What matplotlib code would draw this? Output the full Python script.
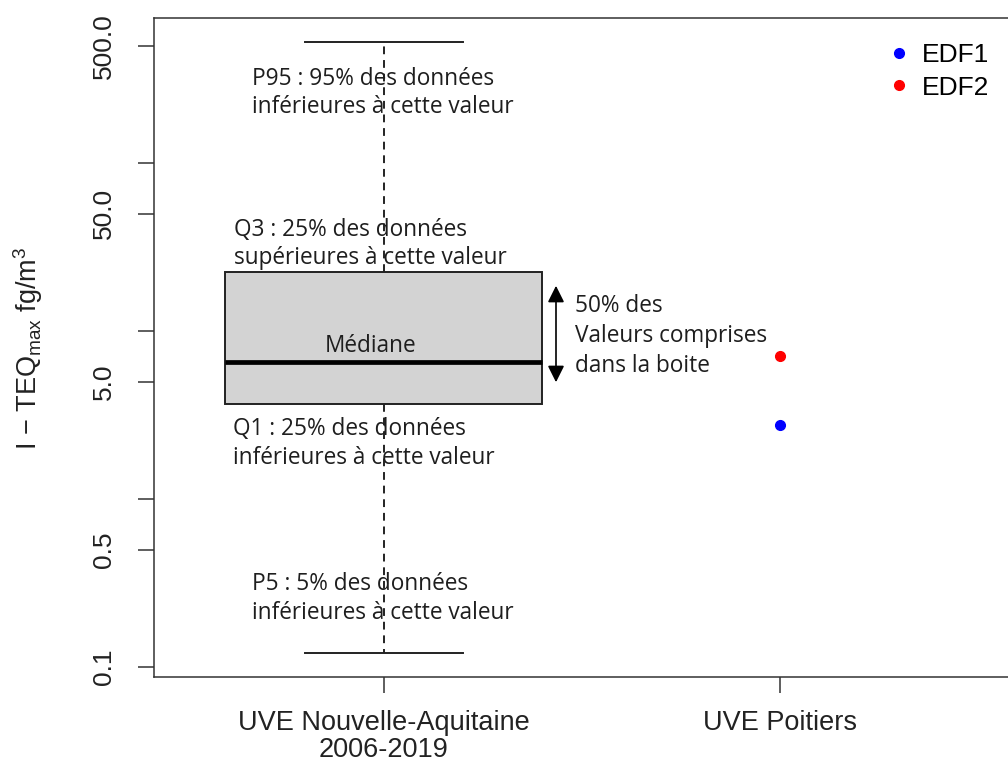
import matplotlib
matplotlib.use('Agg')
import matplotlib.pyplot as plt
import numpy as np
from matplotlib.lines import Line2D

# ── données ──
groups = ['UVE Nouvelle-Aquitaine\n2006-2019', 'UVE Poitiers']
box_p5 = 0.122
box_q1 = 3.68
box_med = 6.54
box_q3 = 22.4
box_p95 = 523.0
edf_labels = ['EDF1', 'EDF2']
edf_values = [2.76, 7.1]
edf_colors = ['blue', 'red']
yticks = [0.1, 0.5, 1, 5, 10, 50, 100, 500]
ytick_labels = ['0.1', '0.5', '', '5.0', '', '50.0', '', '500.0']

W, H = 1008, 770
R_FONT = 'Liberation Sans'
NOTE_FONT = 'Open Sans'
NOTE_COL = '#1e1e1e'

plt.rcParams.update({
    'font.family': [R_FONT, 'DejaVu Sans'],
    'mathtext.fontset': 'custom',
    'mathtext.rm': R_FONT,
    'mathtext.it': R_FONT,
    'mathtext.default': 'regular',
})

fig = plt.figure(figsize=(W / 100, H / 100), dpi=100, facecolor='white')
ax = fig.add_axes([154 / W, 1 - 677 / H, (1010 - 154) / W, (677 - 18) / H])

stats = [dict(whislo=box_p5, q1=box_q1, med=box_med, q3=box_q3,
              whishi=box_p95, fliers=[])]
ax.bxp(stats, positions=[1], widths=0.8, capwidths=0.4, patch_artist=True,
       boxprops=dict(facecolor='#d3d3d3', edgecolor='#222222', linewidth=1.4),
       medianprops=dict(color='black', linewidth=3.4, solid_capstyle='butt'),
       whiskerprops=dict(color='#222222', linewidth=1.4, linestyle=(0, (4, 3))),
       capprops=dict(color='#222222', linewidth=1.4), manage_ticks=False)

for v, c in zip(edf_values, edf_colors):
    ax.plot([2], [v], 'o', color=c, markersize=7, zorder=3)

ax.set_yscale('log')
lo, hi = np.log10(box_p5), np.log10(box_p95)
pad = 0.04 * (hi - lo)
ax.set_ylim(10 ** (lo - pad), 10 ** (hi + pad))
ax.set_xlim(0.42, 2.58)
ax.yaxis.set_minor_locator(matplotlib.ticker.NullLocator())
ax.set_yticks(yticks)
ax.set_yticklabels(ytick_labels, rotation=90, va='center', fontsize=19, color='#222222')
ax.set_xticks([1, 2])
ax.set_xticklabels(groups, fontsize=19.5, color='#222222', linespacing=1.05)
ax.tick_params(axis='y', length=11.5, width=1.1, pad=16, color='#333333')
ax.tick_params(axis='x', length=11.5, width=1.1, pad=12, color='#333333')
for s in ax.spines.values():
    s.set_linewidth(1.1)
    s.set_color('#333333')

fig.text(28 / W, 1 - 348 / H, r'I $-$ TEQ$_{max}$ fg$/$m$^3$', rotation=90,
         ha='center', va='center', fontsize=19.5, color='#222222')

# ── légende ──
handles = [Line2D([], [], marker='o', linestyle='none', color=c, markersize=7)
           for c in edf_colors]
fig.legend(handles, edf_labels, loc='upper left', bbox_to_anchor=(888 / W, 1 - 43 / H),
           frameon=False, fontsize=19, borderpad=0, borderaxespad=0,
           handlelength=0.8, handletextpad=0.5, labelspacing=0.33)

# ── annotations ──
def note(x, y, s, **kw):
    fig.text(x / W, 1 - y / H, s, ha='left', va='baseline', fontsize=16.3,
             family=NOTE_FONT, color=NOTE_COL, **kw)

note(252, 85, 'P95 : 95% des données')
note(252, 113, 'inférieures à cette valeur')
note(234, 236, 'Q3 : 25% des données')
note(234, 264, 'supérieures à cette valeur')
note(325, 352, 'Médiane')
note(233, 435, 'Q1 : 25% des données')
note(233, 464, 'inférieures à cette valeur')
note(252, 590, 'P5 : 5% des données')
note(252, 619, 'inférieures à cette valeur')
note(575, 312, '50% des')
note(575, 342, 'Valeurs comprises')
note(575, 372, 'dans la boite')

fig.add_artist(matplotlib.patches.FancyArrowPatch(
    (556 / W, 1 - 283 / H), (556 / W, 1 - 385 / H), transform=fig.transFigure,
    arrowstyle='<|-|>,head_length=10,head_width=5', mutation_scale=1,
    color='black', linewidth=1.2))

fig.savefig('out.png', dpi=100, facecolor='white')
